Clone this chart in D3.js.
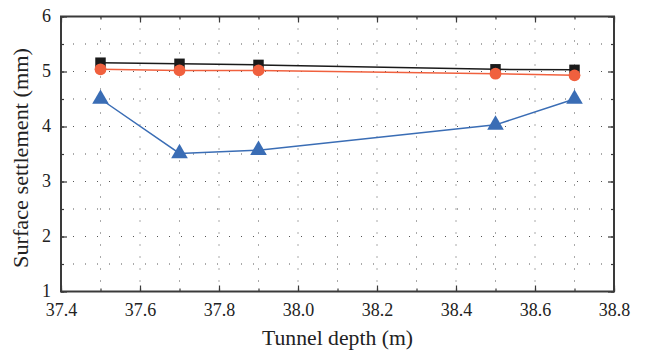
<!DOCTYPE html>
<html><head><meta charset="utf-8">
<script src="https://cdn.jsdelivr.net/npm/d3@7"></script>
<style>body{margin:0;background:#fff}svg{display:block}</style>
</head><body><svg id="c" width="645" height="353"></svg>
<script>
const depths = [37.5, 37.7, 37.9, 38.5, 38.7];
const seriesBlack = [5.16, 5.14, 5.12, 5.04, 5.03];
const seriesRed = [5.04, 5.02, 5.02, 4.96, 4.93];
const seriesBlue = [4.50, 3.51, 3.57, 4.03, 4.50];
const xTicks = [37.4, 37.6, 37.8, 38.0, 38.2, 38.4, 38.6, 38.8];
const yTicks = [1, 2, 3, 4, 5, 6];
const xMinor = d3.range(37.4, 38.81, 0.1);
const yMinor = d3.range(1, 6.01, 0.5);

const svg = d3.select("#c");
const L = 61, R = 614, T = 16.5, B = 291.5;
const x = d3.scaleLinear().domain([37.4, 38.8]).range([L, R]);
const y = d3.scaleLinear().domain([1, 6]).range([B, T]);
const font = "'Liberation Serif', 'DejaVu Serif', serif";
const axisCol = "#3a3a3a";

// grid
const g = svg.append("g");
g.selectAll(".gx").data(xMinor.slice(1, -1)).join("line")
  .attr("x1", d => x(d)).attr("x2", d => x(d)).attr("y1", T).attr("y2", B)
  .attr("stroke", "#555").attr("stroke-width", 1).attr("stroke-dasharray", "1,11");
g.selectAll(".gy").data(yMinor.slice(1, -1)).join("line")
  .attr("y1", d => y(d)).attr("y2", d => y(d)).attr("x1", L).attr("x2", R)
  .attr("stroke", "#555").attr("stroke-width", 1).attr("stroke-dasharray", "1,11");

// axes
const ax = svg.append("g").attr("transform", `translate(0,${B})`)
  .call(d3.axisBottom(x).tickValues(xTicks).tickFormat(d3.format(".1f")).tickSizeInner(-6).tickSizeOuter(0).tickPadding(12));
const axM = svg.append("g").attr("transform", `translate(0,${B})`)
  .call(d3.axisBottom(x).tickValues(xMinor).tickFormat("").tickSizeInner(-3).tickSizeOuter(0));
const axT = svg.append("g").attr("transform", `translate(0,${T})`)
  .call(d3.axisTop(x).tickValues(xTicks).tickFormat("").tickSizeInner(-6).tickSizeOuter(0));
const axTM = svg.append("g").attr("transform", `translate(0,${T})`)
  .call(d3.axisTop(x).tickValues(xMinor).tickFormat("").tickSizeInner(-3).tickSizeOuter(0));
const ay = svg.append("g").attr("transform", `translate(${L},0)`)
  .call(d3.axisLeft(y).tickValues(yTicks).tickFormat(d3.format("d")).tickSizeInner(-6).tickSizeOuter(0).tickPadding(10));
const ayM = svg.append("g").attr("transform", `translate(${L},0)`)
  .call(d3.axisLeft(y).tickValues(yMinor).tickFormat("").tickSizeInner(-3).tickSizeOuter(0));
const ayR = svg.append("g").attr("transform", `translate(${R},0)`)
  .call(d3.axisRight(y).tickValues(yTicks).tickFormat("").tickSizeInner(-6).tickSizeOuter(0));
const ayRM = svg.append("g").attr("transform", `translate(${R},0)`)
  .call(d3.axisRight(y).tickValues(yMinor).tickFormat("").tickSizeInner(-3).tickSizeOuter(0));
[ax, axM, axT, axTM, ay, ayM, ayR, ayRM].forEach(a => {
  a.select(".domain").remove();
  a.selectAll(".tick line").attr("stroke", axisCol).attr("stroke-width", 1.2);
  a.selectAll("text").attr("font-family", font).attr("font-size", 18).attr("fill", "#222");
});
ay.selectAll("text").attr("dy", "0.25em");
svg.append("rect").attr("x", L).attr("y", T).attr("width", R - L).attr("height", B - T)
  .attr("fill", "none").attr("stroke", axisCol).attr("stroke-width", 2);

// series
const line = d3.line().x(d => x(d[0])).y(d => y(d[1]));
function series(vals, color, shape, size) {
  const pts = depths.map((d, i) => [d, vals[i]]);
  svg.append("path").datum(pts).attr("d", line).attr("fill", "none")
    .attr("stroke", color).attr("stroke-width", 1.5);
  svg.append("g").selectAll("path").data(pts).join("path")
    .attr("transform", d => `translate(${x(d[0])},${y(d[1])})`)
    .attr("d", d3.symbol().type(shape).size(size)).attr("fill", color);
}
series(seriesBlack, "#1a1a1a", d3.symbolSquare, 110);
series(seriesRed, "#f0603e", d3.symbolCircle, 110);
series(seriesBlue, "#3a6db5", d3.symbolTriangle, 120);

// titles
svg.append("text").attr("x", 337.5).attr("y", 345).attr("text-anchor", "middle")
  .attr("font-family", font).attr("font-size", 20).attr("fill", "#222")
  .attr("textLength", 151).attr("lengthAdjust", "spacingAndGlyphs").text("Tunnel depth (m)");
svg.append("text").attr("transform", `translate(28,158) rotate(-90)`).attr("text-anchor", "middle")
  .attr("font-family", font).attr("font-size", 20).attr("fill", "#222")
  .attr("textLength", 220).attr("lengthAdjust", "spacingAndGlyphs").text("Surface settlement (mm)");
</script></body></html>
